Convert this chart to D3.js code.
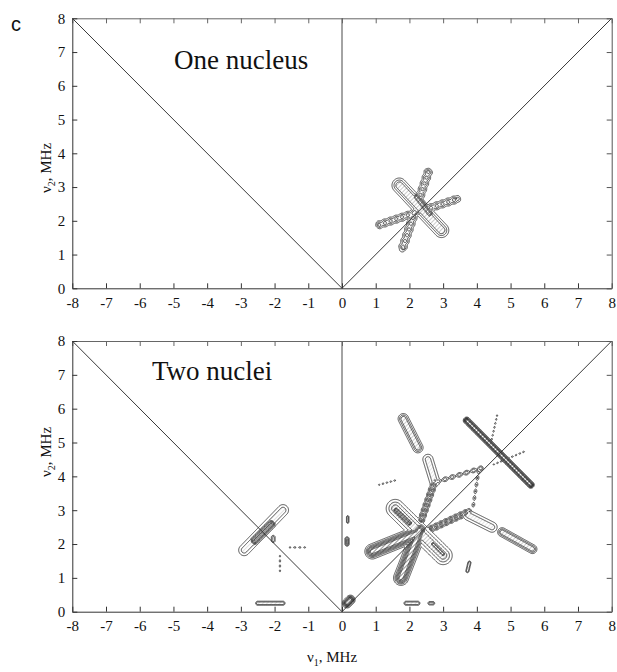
<!DOCTYPE html>
<html>
<head>
<meta charset="utf-8">
<script src="https://cdn.jsdelivr.net/npm/d3@7"></script>
<style>
  body { margin: 0; background: #fff; }
  svg { display: block; }
</style>
</head>
<body>
<svg id="chart" width="617" height="672"></svg>
<script>
// Axis ticks (MHz)
const xTicks = [-8, -7, -6, -5, -4, -3, -2, -1, 0, 1, 2, 3, 4, 5, 6, 7, 8];
const yTicks = [0, 1, 2, 3, 4, 5, 6, 7, 8];

const panelTitles = ["One nucleus", "Two nuclei"];

// Reference lines of the two quadrants: ν2 = |ν1| and ν1 = 0
const diagonalLine = [[-8, 8], [0, 0], [8, 8]];
const zeroLine = [[0, 0], [0, 8]];

// Correlation ridges:
// [ν1 start, ν2 start, ν1 end, ν2 end, width σ, intensity, bead spacing, bead depth]
const oneNucleusRidges = [
  [1.70, 3.05, 2.95, 1.72, 0.14, 0.60, 0, 0],
  [2.56, 3.45, 1.80, 1.20, 0.085, 0.55, 0.18, 0.3],
  [1.10, 1.88, 3.40, 2.64, 0.08, 0.55, 0.18, 0.3],
  [2.20, 2.70, 2.60, 2.20, 0.07, 0.80, 0, 0],
  [1.80, 1.18, 1.84, 1.18, 0.03, 0.60, 0, 0],
  [1.10, 1.86, 1.30, 1.90, 0.025, 0.50, 0.1, 0.7],
  [2.56, 3.40, 2.58, 3.48, 0.025, 0.50, 0, 0],
  [3.30, 2.64, 3.42, 2.66, 0.025, 0.50, 0, 0]
];

const twoNucleiRidges = [
  // star around (2.3, 2.3)
  [1.58, 3.05, 3.00, 1.66, 0.18, 0.55, 0, 0],
  [1.60, 3.00, 2.00, 2.62, 0.07, 0.90, 0, 0],
  [2.70, 2.00, 3.00, 1.70, 0.06, 0.80, 0, 0],
  [0.90, 1.78, 2.20, 2.30, 0.12, 1.00, 0, 0],
  [1.75, 1.00, 2.30, 2.40, 0.12, 1.00, 0, 0],
  [2.35, 2.70, 2.75, 3.85, 0.065, 0.65, 0.16, 0.35],
  [2.75, 3.85, 2.55, 4.50, 0.12, 0.40, 0, 0],
  [2.65, 2.45, 3.75, 2.95, 0.065, 0.65, 0.16, 0.35],
  [3.75, 2.85, 4.45, 2.50, 0.12, 0.40, 0, 0],
  [2.85, 3.85, 4.15, 4.25, 0.05, 0.45, 0.22, 0.6],
  [4.05, 4.15, 3.88, 3.05, 0.035, 0.35, 0.2, 0.6],
  // high-frequency ridge
  [3.70, 5.65, 5.60, 3.75, 0.055, 1.00, 0, 0],
  [4.50, 4.35, 5.45, 4.75, 0.02, 0.30, 0.12, 0.8],
  [4.60, 5.80, 4.40, 4.90, 0.02, 0.30, 0.12, 0.8],
  // isolated peaks
  [1.82, 5.70, 2.25, 4.85, 0.10, 0.60, 0, 0],
  [4.75, 2.35, 5.65, 1.85, 0.085, 0.60, 0, 0],
  [0.15, 2.00, 0.15, 2.15, 0.045, 0.50, 0, 0],
  [0.17, 2.65, 0.17, 2.80, 0.03, 0.40, 0, 0],
  [0.15, 0.25, 0.25, 0.35, 0.075, 1.00, 0, 0],
  [1.90, 0.25, 2.25, 0.25, 0.045, 0.45, 0, 0],
  [2.60, 0.25, 2.70, 0.25, 0.04, 0.40, 0, 0],
  [3.72, 1.20, 3.78, 1.45, 0.035, 0.45, 0, 0],
  [1.10, 3.75, 1.65, 3.90, 0.02, 0.30, 0.12, 0.8],
  // (-,+) quadrant
  [-2.90, 1.82, -1.75, 3.00, 0.13, 0.40, 0, 0],
  [-2.60, 2.10, -2.10, 2.60, 0.08, 0.90, 0, 0],
  [-2.04, 2.10, -2.04, 2.20, 0.045, 0.40, 0, 0],
  [-1.55, 1.90, -1.10, 1.90, 0.02, 0.30, 0.15, 0.8],
  [-1.84, 1.65, -1.84, 1.20, 0.02, 0.30, 0.15, 0.8],
  [-2.50, 0.25, -1.75, 0.25, 0.045, 0.45, 0, 0]
];

const contourLevels = [0.18, 0.32, 0.46, 0.60, 0.74, 0.88];

const serif = "'Liberation Serif', 'Times New Roman', serif";
const svg = d3.select("#chart");

// hatch used to shade the inner contour bands
const defs = svg.append("defs");
defs.append("pattern")
  .attr("id", "hatch")
  .attr("width", 3).attr("height", 3)
  .attr("patternUnits", "userSpaceOnUse")
  .attr("patternTransform", "rotate(45)")
  .append("line")
  .attr("x1", 0).attr("y1", 0).attr("x2", 0).attr("y2", 3)
  .attr("stroke", "#555").attr("stroke-width", 0.9);

const left = 72.3, right = 611.7;
const panels = [
  { top: 18.3, bottom: 288.3, title: panelTitles[0], ridges: oneNucleusRidges, tx: 174, ty: 69, labelY: 168 },
  { top: 341, bottom: 611.7, title: panelTitles[1], ridges: twoNucleiRidges, tx: 152, ty: 380, labelY: 452 }
];

// grid for the spectrum intensity
const step = 0.02, nx = 800, ny = 400;

function buildField(ridges) {
  const v = new Float32Array(nx * ny);
  ridges.forEach(([x1, y1, x2, y2, s, a, bead, depth]) => {
    const r = 4 * s;
    const i0 = Math.max(0, Math.floor((Math.min(x1, x2) - r + 8) / step));
    const i1 = Math.min(nx - 1, Math.ceil((Math.max(x1, x2) + r + 8) / step));
    const j0 = Math.max(0, Math.floor((8 - Math.max(y1, y2) - r) / step));
    const j1 = Math.min(ny - 1, Math.ceil((8 - Math.min(y1, y2) + r) / step));
    const ex = x2 - x1, ey = y2 - y1, L2 = ex * ex + ey * ey || 1e-9, L = Math.sqrt(L2);
    for (let j = j0; j <= j1; j++) {
      const y = 8 - (j + 0.5) * step;
      for (let i = i0; i <= i1; i++) {
        const x = -8 + (i + 0.5) * step;
        const tu = ((x - x1) * ex + (y - y1) * ey) / L2;
        const t = Math.max(0, Math.min(1, tu));
        const px = x1 + t * ex, py = y1 + t * ey;
        const d2 = (x - px) * (x - px) + (y - py) * (y - py);
        let val = a * Math.exp(-d2 / (2 * s * s));
        if (bead > 0) {
          const c = Math.cos(2 * Math.PI * (tu * L) / bead);
          val *= 1 - depth * (0.5 - 0.5 * c);
        }
        const k = j * nx + i;
        if (val > v[k]) v[k] = val;
      }
    }
  });
  return v;
}

const x = d3.scaleLinear().domain([-8, 8]).range([left, right]);

panels.forEach((p, idx) => {
  const y = d3.scaleLinear().domain([0, 8]).range([p.bottom, p.top]);
  const g = svg.append("g");

  const clipId = "clip" + idx;
  defs.append("clipPath").attr("id", clipId)
    .append("rect")
    .attr("x", left).attr("y", p.top)
    .attr("width", right - left).attr("height", p.bottom - p.top);

  // contours of the correlation intensity
  const field = buildField(p.ridges);
  const contours = d3.contours().size([nx, ny]).thresholds(contourLevels)(field);
  const proj = d3.geoTransform({
    point(gx, gy) { this.stream.point(x(-8 + gx * step), y(8 - gy * step)); }
  });
  const path = d3.geoPath(proj);
  const cg = g.append("g").attr("clip-path", `url(#${clipId})`);
  cg.selectAll("path.fill")
    .data(contours.filter(c => c.value >= 0.32))
    .join("path")
    .attr("class", "fill")
    .attr("d", path)
    .attr("fill", "url(#hatch)")
    .attr("fill-opacity", 0.35)
    .attr("stroke", "none");
  cg.selectAll("path.line")
    .data(contours)
    .join("path")
    .attr("class", "line")
    .attr("d", path)
    .attr("fill", "none")
    .attr("stroke", "#111")
    .attr("stroke-width", 0.7);

  // reference lines
  const line = d3.line().x(d => x(d[0])).y(d => y(d[1]));
  g.append("path").attr("d", line(diagonalLine))
    .attr("fill", "none").attr("stroke", "#222").attr("stroke-width", 0.9);
  g.append("path").attr("d", line(zeroLine))
    .attr("fill", "none").attr("stroke", "#333").attr("stroke-width", 0.9);

  // axes with inward ticks on all four sides
  const styleAxis = (sel, col) => {
    sel.attr("font-family", serif).attr("font-size", 15);
    sel.selectAll(".domain").attr("stroke", col).attr("stroke-width", 1);
    sel.selectAll(".tick line").attr("stroke", col);
    sel.selectAll(".tick text").attr("fill", "#111");
  };
  const fmt = d => String(d);
  g.append("g").attr("transform", `translate(0,${p.bottom})`)
    .call(d3.axisBottom(x).tickValues(xTicks).tickFormat(fmt).tickSizeInner(-5).tickSizeOuter(0))
    .call(s => styleAxis(s, "#333"))
    .call(s => s.selectAll(".tick text").attr("y", 9).attr("dy", "0.71em"));
  g.append("g").attr("transform", `translate(0,${p.top})`)
    .call(d3.axisTop(x).tickValues(xTicks).tickFormat("").tickSizeInner(-5).tickSizeOuter(0))
    .call(s => styleAxis(s, "#666"));
  g.append("g").attr("transform", `translate(${left},0)`)
    .call(d3.axisLeft(y).tickValues(yTicks).tickFormat(fmt).tickSizeInner(-5).tickSizeOuter(0))
    .call(s => styleAxis(s, "#333"))
    .call(s => s.selectAll(".tick text").attr("x", -7));
  g.append("g").attr("transform", `translate(${right},0)`)
    .call(d3.axisRight(y).tickValues(yTicks).tickFormat("").tickSizeInner(-5).tickSizeOuter(0))
    .call(s => styleAxis(s, "#555"));

  // title inside the panel
  g.append("text")
    .attr("x", p.tx).attr("y", p.ty)
    .attr("font-family", serif)
    .attr("font-size", 27)
    .attr("fill", "#111")
    .text(p.title);

  // ν2 axis label
  const yl = g.append("text")
    .attr("transform", `translate(51,${p.labelY}) rotate(-90)`)
    .attr("text-anchor", "middle")
    .attr("font-family", serif)
    .attr("font-size", 15)
    .attr("fill", "#111");
  yl.append("tspan").text("ν");
  yl.append("tspan").attr("font-size", 10).attr("dy", 4).text("2");
  yl.append("tspan").attr("dy", -4).text(", MHz");
});

// ν1 axis label
const xl = svg.append("text")
  .attr("x", 332).attr("y", 662)
  .attr("text-anchor", "middle")
  .attr("font-family", serif)
  .attr("font-size", 15)
  .attr("fill", "#111");
xl.append("tspan").text("ν");
xl.append("tspan").attr("font-size", 10).attr("dy", 4).text("1");
xl.append("tspan").attr("dy", -4).text(", MHz");

// panel letter
svg.append("text")
  .attr("x", 11).attr("y", 31)
  .attr("font-family", "'Liberation Sans', Arial, sans-serif")
  .attr("font-size", 20)
  .attr("fill", "#111")
  .text("c");
</script>
</body>
</html>
